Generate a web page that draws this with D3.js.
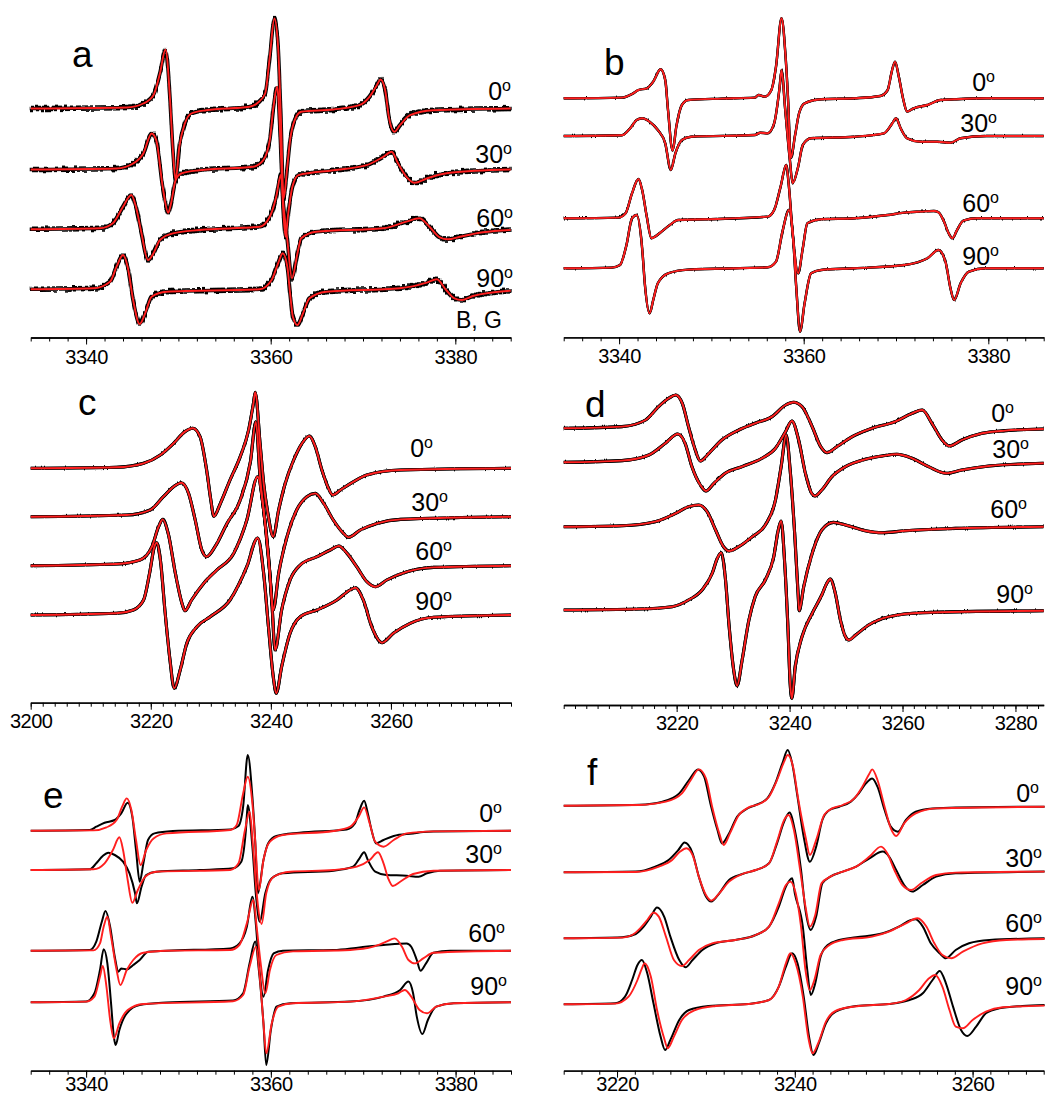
<!DOCTYPE html>
<html><head><meta charset="utf-8">
<script src="https://cdn.jsdelivr.net/npm/d3@7/dist/d3.min.js"></script>
<style>body{margin:0;background:#fff}svg{display:block}</style>
</head><body>
<svg id="chart" width="1045" height="1099"></svg>
<script>
// ---------------- DATA ----------------
const angles = ["0", "30", "60", "90"];
const ticksA = [3340, 3360, 3380];
const ticksB = [3340, 3360, 3380];
const ticksC = [3200, 3220, 3240, 3260];
const ticksD = [3220, 3240, 3260, 3280];
const ticksE = [3340, 3360, 3380];
const ticksF = [3220, 3240, 3260];

// baseline offsets of the four traces (a.u. above axis)
const offA = [229, 168, 107.5, 47.5];
const offB = [239, 201.3, 119, 69];
const offC = [234.4, 186, 137, 87.7];
const offD = [276.7, 242.7, 178.3, 95];
const offE = [240, 200.7, 120, 68.4];
const offF = [265, 198.4, 132.4, 66.4];

// panel a  [B (G), intensity]
const a0 = [[3334,0],[3344.4,1],[3346.2,5],[3347.3,13.3],[3348.0,35],[3348.6,59],[3349.1,8.3],[3349.4,-41.7],[3349.7,-71.7],[3350.1,-38.3],[3350.7,-15],[3351.4,-5],[3353.0,-1.7],[3357.7,1.7],[3358.6,5.7],[3359.4,15],[3359.9,51.7],[3360.4,90],[3360.8,61.7],[3361.1,-8.3],[3361.4,-90],[3361.8,-58],[3362.1,-31.7],[3362.6,-11.7],[3363.3,-3.3],[3366.8,-1],[3369.6,3.3],[3370.7,11.7],[3371.5,23.3],[3371.9,29],[3372.4,18.3],[3372.8,-8.3],[3373.4,-23.3],[3374.0,-16.7],[3375.1,-6.7],[3377.6,-1.7],[3386,0]];
const a30 = [[3334,0],[3343.3,1],[3345.1,6],[3346.2,16],[3347.1,36],[3347.6,29.3],[3348.3,-17.3],[3348.9,-43.3],[3349.2,-34],[3349.7,-10.7],[3350.3,-4],[3352.3,-0.7],[3358.1,2.7],[3359.2,9.3],[3359.9,29.3],[3360.3,62.7],[3360.7,82.7],[3361.05,29.3],[3361.34,-37.3],[3361.6,-67.3],[3361.9,-44],[3362.35,-17.3],[3363.0,-5.7],[3366.8,-0.7],[3370.4,4.3],[3372.2,12.7],[3373.1,17.7],[3373.8,6],[3374.7,-7.3],[3375.6,-13.3],[3376.9,-9],[3379.4,-3.3],[3386,0]];
const a60 = [[3334,0.7],[3341.5,1.7],[3342.9,6.7],[3344.0,23.3],[3344.9,35],[3345.4,23.3],[3346.0,-3.3],[3346.7,-30],[3347.3,-23.3],[3348.0,-10],[3349.4,-3.3],[3352.3,0],[3358.8,3.3],[3359.9,13.3],[3360.6,33.3],[3361.1,55],[3361.4,23.3],[3361.8,-10],[3362.3,-48.3],[3362.9,-23.3],[3363.3,-8.3],[3364.9,-1.7],[3372.2,1.7],[3374.7,8.3],[3376.1,11.7],[3377.2,3.3],[3378.3,-7.3],[3379.2,-9.3],[3380.5,-6.7],[3383.0,-2.3],[3386,0]];
const a90 = [[3334,0.7],[3340.8,1.7],[3342.6,8.3],[3343.3,23.3],[3344.0,35],[3344.5,23.3],[3345.1,-10],[3345.8,-34],[3346.4,-23.3],[3347.1,-6.7],[3348.7,-1.7],[3358.8,0.7],[3360.1,10],[3360.8,26.7],[3361.3,36.7],[3361.8,23.3],[3362.1,-3.3],[3362.4,-26.7],[3362.9,-35],[3363.5,-23.3],[3364.2,-8.3],[3366.0,-1.7],[3374.0,1.7],[3376.9,7.3],[3378.0,10.7],[3379.0,0],[3379.9,-8.3],[3380.7,-10],[3381.9,-6],[3386,-0.7]];

// panel b
const b0 = [[3334,0],[3340.3,0.7],[3341.4,4.3],[3342.1,8.3],[3343.0,10],[3343.7,16.7],[3344.5,29],[3345.0,18.3],[3345.3,-11.7],[3345.8,-52.3],[3346.2,-28.3],[3346.8,-6.7],[3347.5,-1.7],[3351.1,-0.3],[3354.7,0.7],[3355.1,3.3],[3355.8,1.7],[3356.5,8.3],[3357.0,31.7],[3357.6,80],[3358.0,46.7],[3358.3,0],[3358.6,-59.7],[3359.1,-35],[3359.5,-15],[3360.1,-5],[3361.9,-1],[3365.5,0],[3368.3,2.3],[3369.1,8.3],[3369.5,25],[3369.9,36.7],[3370.3,21.7],[3370.8,-1.7],[3371.2,-13.3],[3371.9,-10],[3373.4,-6.7],[3374.8,-1.7],[3376.3,-1],[3379.8,0],[3386,0]];
const b30 = [[3334,0],[3340.3,0.7],[3341.2,7.7],[3341.9,16],[3342.5,17.7],[3343.3,14.3],[3344.2,6],[3345.0,-7.3],[3345.6,-34],[3346.1,-17.3],[3346.8,-4],[3347.8,-0.7],[3354.7,1],[3355.3,3.3],[3356.1,2.7],[3356.8,12.7],[3357.4,49.3],[3357.6,66],[3358.0,26],[3358.5,-24],[3358.8,-47.3],[3359.4,-30.7],[3359.9,-9],[3360.8,-2.3],[3365.5,-0.7],[3368.7,2.7],[3369.6,12.7],[3370.0,17.7],[3370.5,7.7],[3371.2,-2.3],[3372.7,-5.7],[3374.5,-5.7],[3375.9,-6.7],[3377.0,-2.3],[3379.8,0],[3386,0]];
const b60 = [[3334,0],[3339.9,0.7],[3340.7,5],[3341.4,25],[3342.1,39.3],[3342.5,28.3],[3343.0,1.7],[3343.5,-20],[3343.9,-18.3],[3344.6,-13.3],[3345.5,-6.7],[3346.4,-1.7],[3349.3,-1],[3356.1,1.7],[3356.8,8.3],[3357.5,31.7],[3358.1,53.3],[3358.4,31.7],[3358.8,-15],[3359.4,-55],[3359.9,-30],[3360.4,-5],[3361.9,-1],[3365.5,0],[3369.1,3.3],[3370.9,5.7],[3372.7,6.7],[3374.1,7.3],[3374.6,6],[3375.2,-3.3],[3375.7,-15],[3376.1,-20],[3376.6,-12],[3377.3,-2.3],[3378.8,0],[3386,0]];
const b90 = [[3334,0],[3339.2,0.7],[3340.1,3.3],[3340.8,23.3],[3341.4,50],[3341.9,53.3],[3342.5,20],[3342.8,-16.7],[3343.3,-45],[3343.7,-31.7],[3344.2,-15],[3345.3,-5],[3347.5,-1.3],[3356.1,1],[3357.0,6.7],[3357.7,36.7],[3358.4,58.3],[3358.8,36.7],[3359.2,-20],[3359.6,-63.3],[3360.1,-35],[3360.8,-5],[3361.9,-1.7],[3365.5,0],[3370.9,3.3],[3373.4,10],[3374.6,18.3],[3375.4,5],[3375.9,-20],[3376.3,-31.7],[3377.0,-15],[3377.9,-3.3],[3379.8,0],[3386,0]];

// panel c
const c0 = [[3200,0],[3214.3,1],[3218.8,5],[3221.6,13.3],[3223.8,25],[3225.7,36.7],[3227.0,40],[3228.2,31.7],[3229.3,-1.7],[3230.0,-31.7],[3230.5,-48],[3231.6,-35],[3233.2,-11.7],[3234.9,11.7],[3236.3,38.3],[3237.1,65],[3237.4,76],[3238.2,25],[3238.8,-15],[3239.5,-45],[3240.4,-68.3],[3241.3,-41.7],[3242.4,-15],[3243.8,8.3],[3245.2,25],[3246.4,32.3],[3247.4,21.7],[3248.5,-1.7],[3249.6,-20],[3250.3,-26.7],[3251.6,-21.7],[3253.8,-13.3],[3256.0,-6.7],[3261.6,-1.7],[3280,0]];
const c30 = [[3200,0],[3216.0,1.7],[3219.9,6.7],[3222.1,20],[3223.8,30],[3225.1,34],[3226.3,23.3],[3227.4,-3.3],[3228.5,-33.3],[3229.3,-40],[3230.7,-30],[3232.7,-6.7],[3234.9,16.7],[3236.6,55],[3237.5,95],[3238.2,40],[3239.1,-10],[3239.8,-55],[3240.4,-93.3],[3241.3,-56.7],[3242.7,-20],[3244.3,6.7],[3246.0,20],[3247.4,23.3],[3248.8,13.3],[3250.4,-3.3],[3252.1,-16.7],[3252.9,-20.7],[3254.9,-13.3],[3257.7,-6.7],[3261.6,-2.7],[3280,0]];
const c60 = [[3200,0],[3214.3,1.7],[3218.2,5.7],[3220.2,19],[3221.3,39],[3222.0,46.3],[3222.9,32.3],[3224.1,-7.7],[3225.2,-37.7],[3225.7,-45],[3226.8,-34.3],[3228.8,-17.7],[3231.0,-4.3],[3233.8,12.3],[3236.0,45.7],[3237.8,89],[3238.8,55.7],[3239.6,10],[3240.2,-40],[3240.7,-84.3],[3241.8,-44.3],[3243.2,-14.3],[3244.9,0.7],[3247.7,9],[3249.9,15.7],[3251.3,19.7],[3252.7,12.3],[3254.3,-1],[3256.0,-16],[3257.4,-21],[3259.3,-14.3],[3262.7,-6],[3267.1,-1.7],[3280,0]];
const c90 = [[3200,0],[3214.3,1.7],[3217.1,5],[3218.8,15],[3219.8,41.7],[3220.6,68.3],[3221.0,72.3],[3221.6,55],[3222.4,1.7],[3223.2,-45],[3223.9,-73.3],[3224.9,-55],[3226.0,-28.3],[3227.7,-11.7],[3229.9,-1.7],[3233.2,15],[3236.0,48.3],[3237.8,77],[3238.8,41.7],[3239.6,-11.7],[3240.4,-61.7],[3240.9,-78.3],[3241.8,-51.7],[3243.2,-18.3],[3244.9,-1.7],[3247.7,5],[3251.0,15],[3253.2,25],[3254.1,27.3],[3255.4,15],[3256.8,-11.7],[3258.5,-27.7],[3260.4,-18.3],[3263.2,-8.3],[3267.1,-2.3],[3280,0]];

// panel d
const d0 = [[3200,0],[3210.3,1.7],[3214.5,8.3],[3216.8,21.7],[3218.6,30],[3219.8,33.3],[3221.0,25],[3222.1,1.7],[3223.3,-21.7],[3224.2,-32.7],[3225.7,-25],[3228.0,-11.7],[3231.0,-1.7],[3233.9,5],[3236.9,11.7],[3239.3,23.3],[3240.7,26],[3242.2,21.7],[3244.0,1.7],[3245.5,-18.3],[3246.6,-24.3],[3248.4,-18.3],[3251.1,-8.3],[3254.6,0],[3258.7,6.7],[3261.7,15],[3263.5,18.3],[3265.2,5],[3267.0,-11.7],[3268.3,-17.7],[3270.5,-11.7],[3274.1,-5],[3278.2,-2.3],[3285,-0.7]];
const d30 = [[3200,0],[3210.3,1.7],[3215.1,7.3],[3218.0,19],[3220.2,28.3],[3221.5,19],[3222.7,-4.3],[3224.2,-22.7],[3225.2,-28.7],[3226.6,-21],[3228.6,-11],[3231.6,-4.3],[3235.1,4],[3237.5,14],[3239.3,30.7],[3240.4,41.3],[3241.6,22.3],[3242.8,-11],[3243.9,-31],[3244.5,-33.7],[3245.7,-27.7],[3247.5,-14.3],[3249.9,-4.3],[3253.4,3],[3256.4,6.3],[3259.0,8],[3261.7,4],[3264.6,-4.3],[3267.8,-11],[3270.5,-7.7],[3275.3,-3.7],[3285,-1]];
const d60 = [[3200,0],[3210.3,1],[3216.2,5],[3219.8,13.3],[3222.1,20],[3223.9,21.7],[3225.4,15],[3226.9,-3.3],[3228.3,-20],[3229.3,-24.3],[3231.0,-20],[3233.4,-10],[3235.7,1.7],[3237.5,26.7],[3238.5,60],[3239.4,91.7],[3240.1,56.7],[3240.9,-6.7],[3241.5,-66.7],[3241.7,-84],[3242.5,-60],[3244.0,-26.7],[3245.7,-3.3],[3247.8,4.3],[3249.9,1.7],[3253.4,-4],[3256.4,-6],[3260.5,-4],[3269.4,-1.7],[3285,0]];
const d90 = [[3200,0],[3213.3,1],[3219.2,3.3],[3222.1,10],[3224.5,20],[3226.3,36.7],[3227.2,51.7],[3227.9,57.3],[3228.6,33.3],[3229.3,-16.7],[3230.1,-60],[3230.7,-75.7],[3231.6,-50],[3232.8,-10],[3233.9,13.3],[3235.7,30],[3237.2,53.3],[3238.0,80],[3238.5,89],[3239.1,50],[3239.7,-16.7],[3240.1,-73.3],[3240.4,-88.3],[3241.0,-56.7],[3242.2,-26.7],[3244.0,-3.3],[3245.7,15],[3246.6,26.7],[3247.2,31],[3248.1,16.7],[3249.0,-10],[3249.9,-26.7],[3250.5,-30],[3251.7,-25],[3254.0,-15],[3257.6,-6.7],[3263.5,-2.7],[3285,-0.7]];

// panel e (experiment = black, simulation = red)
const e0k = [[3334,0],[3340.4,0.7],[3341.1,4],[3342.0,8],[3343.1,10.7],[3343.8,17.3],[3344.5,28],[3345.0,14],[3345.4,-19.3],[3345.8,-51],[3346.2,-32.7],[3346.7,-9.3],[3347.4,-2.7],[3349.4,-0.3],[3355.6,1.3],[3356.5,4.7],[3357.0,24],[3357.5,75.7],[3358.0,34],[3358.3,-9.3],[3358.6,-62.7],[3359.2,-29.3],[3359.7,-12.7],[3360.6,-5.3],[3363.1,-2],[3368.2,1.3],[3369.1,7.3],[3369.6,20.7],[3370.1,30],[3370.5,17.3],[3370.9,0.7],[3371.4,-12.7],[3372.2,-9.3],[3373.3,-5.3],[3375.4,-2.7],[3376.5,-1.3],[3377.6,-0.7],[3386,0]];
const e0r = [[3334,0],[3340.8,0.3],[3342.2,3.3],[3343.3,10.7],[3343.9,24],[3344.4,32.3],[3344.9,20.7],[3345.4,-9.3],[3345.9,-34.3],[3346.5,-19.3],[3347.3,-7.7],[3348.7,-2.7],[3355.6,0.7],[3356.3,5.7],[3357.0,37.3],[3357.5,54],[3358.0,27.3],[3358.3,-9.3],[3358.7,-59.3],[3359.2,-29.3],[3359.9,-11],[3361.3,-4.3],[3366.8,-0.3],[3368.6,4],[3369.5,14],[3370.1,23.3],[3370.7,7.3],[3371.3,-11],[3372.2,-16],[3373.3,-9.3],[3374.7,-2.7],[3377.6,-0.7],[3386,0]];
const e30k = [[3334,0],[3340.4,0.7],[3341.1,6.7],[3341.8,14],[3342.4,17.3],[3343.1,15],[3344.0,8.3],[3344.7,-3.3],[3345.3,-23.3],[3345.5,-33.3],[3346.0,-16.7],[3346.5,-5],[3347.6,-1.7],[3352.3,0],[3355.9,1.7],[3356.8,8.3],[3357.3,40],[3357.5,65],[3358.0,23.3],[3358.4,-26.7],[3358.8,-51.7],[3359.4,-23.3],[3360.1,-8.3],[3361.3,-3.3],[3366.8,-0.7],[3368.9,3.3],[3369.6,11.7],[3370.1,17.7],[3370.5,10],[3371.3,-1.7],[3372.5,-5],[3374.7,-5.7],[3376.0,-6.7],[3376.9,-3.3],[3378.3,-0.7],[3386,0]];
const e30r = [[3334,0],[3340.8,0.7],[3342.0,6.7],[3342.9,20],[3343.6,32.7],[3344.0,20],[3344.5,-10],[3345.0,-32.7],[3345.6,-20],[3346.4,-6.7],[3347.6,-1.7],[3355.6,0],[3356.5,6.7],[3357.2,40],[3357.7,58.3],[3358.1,20],[3358.5,-26.7],[3359.0,-54],[3359.5,-23.3],[3360.3,-6.7],[3362.1,-1.7],[3366.8,0],[3369.3,3.3],[3370.7,10],[3371.6,17.7],[3372.2,6.7],[3372.7,-8.3],[3373.2,-16],[3374.0,-11.7],[3375.4,-4],[3377.6,-0.7],[3386,0]];
const e60k = [[3334,0],[3340.4,0.7],[3341.1,9],[3341.7,29],[3342.1,39.7],[3342.6,24],[3343.1,-6],[3343.5,-21],[3343.8,-17.7],[3344.4,-18.7],[3345.1,-14.3],[3345.8,-9.3],[3346.7,-1],[3348.7,0],[3355.6,2.3],[3356.6,7.3],[3357.4,24],[3358.0,54],[3358.4,24],[3358.7,-12.7],[3359.2,-46],[3359.7,-19.3],[3360.3,-2.7],[3361.3,0],[3366.8,0.7],[3369.6,3.3],[3372.2,5.7],[3374.7,7.3],[3375.2,4],[3375.8,-9.3],[3376.2,-20],[3376.8,-12.7],[3377.6,-2],[3379.4,0],[3386,0]];
const e60r = [[3334,0],[3340.8,0.3],[3341.5,7.3],[3341.9,24],[3342.3,34],[3342.7,14],[3343.3,-19.3],[3343.7,-34.3],[3344.4,-19.3],[3345.1,-9.3],[3346.2,-2],[3348.7,0],[3355.6,0.7],[3356.6,5.7],[3357.4,27.3],[3358.1,50.7],[3358.5,20.7],[3358.9,-12.7],[3359.4,-42.7],[3359.9,-19.3],[3360.6,-4.3],[3362.4,-0.7],[3368.6,0.7],[3371.1,4],[3372.5,9],[3373.4,12.3],[3374.2,4],[3374.9,-9.3],[3375.6,-12.7],[3376.5,-7.7],[3377.6,-2],[3386,0]];
const e90k = [[3334,0],[3340.0,0.7],[3340.9,9],[3341.5,32.3],[3341.9,53],[3342.3,39],[3342.7,-1],[3343.0,-34.3],[3343.2,-42.7],[3343.6,-27.7],[3344.4,-11],[3345.8,-2.7],[3348.7,-0.3],[3355.9,1.7],[3357.0,9],[3357.7,39],[3358.3,60.7],[3358.7,32.3],[3359.2,-21],[3359.5,-62.7],[3360.0,-27.7],[3360.6,-4.3],[3362.1,-1],[3368.6,0.7],[3372.2,5.7],[3374.0,12.3],[3374.9,20.7],[3375.4,9],[3375.8,-14.3],[3376.4,-31.7],[3377.0,-17.7],[3377.9,-4.3],[3379.8,-1],[3386,0]];
const e90r = [[3334,0],[3340.0,0.7],[3340.9,5.7],[3341.5,25.7],[3341.8,36.3],[3342.2,15.7],[3342.6,-17.7],[3343.0,-36],[3343.6,-21],[3344.5,-7.7],[3346.2,-1.7],[3355.9,1],[3357.0,7.3],[3357.7,35.7],[3358.4,55.7],[3358.8,25.7],[3359.2,-21],[3359.5,-51],[3360.1,-21],[3360.8,-4.3],[3362.4,-1],[3368.6,0.7],[3372.2,5.7],[3373.8,9],[3374.5,12.3],[3375.2,5.7],[3376.1,-7.7],[3376.9,-11],[3377.9,-4.3],[3379.8,-1],[3386,0]];

// panel f
const f0k = [[3214,0],[3222.5,1],[3225.1,4],[3227.0,12.3],[3228.1,25.7],[3229.1,36.3],[3229.8,29],[3230.5,2.3],[3231.3,-24.3],[3231.8,-37.7],[3232.6,-27.7],[3233.5,-11],[3234.5,-3.7],[3235.6,0.7],[3236.9,7.3],[3237.8,22.3],[3238.6,42.3],[3239.2,55.7],[3239.7,42.3],[3240.3,9],[3241.0,-31],[3241.7,-56],[3242.4,-41],[3243.1,-14.3],[3243.9,-4.3],[3245.0,-1],[3246.3,4],[3247.2,12.3],[3248.0,22.3],[3248.7,27.3],[3249.3,19],[3250.1,-4.3],[3250.8,-21],[3251.6,-26],[3252.5,-14.3],[3253.6,-6],[3255.5,-2.7],[3258.1,-1.7],[3268.1,-1]];
const f0r = [[3214,0],[3222.5,0.7],[3225.5,4],[3227.3,12.3],[3228.3,25.7],[3229.2,36.3],[3230.0,27.3],[3230.7,-1],[3231.5,-27.7],[3232.0,-39.3],[3232.7,-27.7],[3233.7,-9.3],[3234.8,-1.7],[3236.0,1.7],[3237.1,9],[3238.0,25.7],[3238.8,44],[3239.2,50.7],[3239.8,39],[3240.4,5.7],[3241.2,-31],[3241.7,-49.3],[3242.4,-34.3],[3243.3,-9.3],[3244.2,-2.7],[3245.4,0.7],[3246.7,7.3],[3247.6,19],[3248.4,32.3],[3248.7,36.3],[3249.3,25.7],[3250.1,-1],[3250.8,-22.7],[3251.4,-30.3],[3252.3,-17.7],[3253.6,-7.7],[3255.9,-2.7],[3268.1,-1]];
const f30k = [[3214,0],[3222.1,0.7],[3224.3,5.7],[3225.8,12.3],[3226.9,22.3],[3227.6,29.7],[3228.5,19],[3229.2,-4.3],[3230.0,-24.3],[3230.6,-29.3],[3231.5,-21],[3232.6,-7.7],[3234.1,-1.7],[3235.6,2.3],[3237.1,9],[3238.0,29],[3238.8,50.7],[3239.4,59.7],[3240.0,42.3],[3240.7,2.3],[3241.2,-37.7],[3241.8,-57.7],[3242.4,-44.3],[3243.1,-11],[3244.0,-4.3],[3245.4,0.7],[3246.9,5.7],[3248.4,14],[3249.9,20.7],[3250.6,15.7],[3251.4,2.3],[3252.3,-12.7],[3253.2,-19.3],[3254.4,-12.7],[3255.9,-4.3],[3258.1,-1],[3268.1,0.7]];
const f30r = [[3214,0],[3222.1,0.3],[3224.7,5.7],[3226.2,12.3],[3227.1,20.7],[3227.8,24],[3228.5,17.3],[3229.2,-4.3],[3230.0,-22.7],[3230.6,-28.3],[3231.5,-21],[3232.6,-9.3],[3234.1,-1.7],[3235.6,2.3],[3237.1,9],[3238.0,30.7],[3238.8,52.3],[3239.3,57.3],[3239.9,42.3],[3240.6,2.3],[3241.2,-34.3],[3241.7,-54.3],[3242.3,-42.7],[3243.0,-11],[3244.0,-4.3],[3245.4,0.7],[3246.9,5.7],[3248.4,15.7],[3249.7,25.7],[3250.4,19],[3251.2,2.3],[3252.1,-12.7],[3253.1,-17.7],[3254.2,-11],[3255.9,-2.7],[3258.1,-0.3],[3268.1,0.7]];
const f60k = [[3214,0],[3220.6,1],[3222.1,4.3],[3223.0,11.7],[3223.8,21.7],[3224.5,30.7],[3225.3,21.7],[3226.0,1.7],[3227.0,-21.7],[3227.7,-29],[3228.5,-21.7],[3229.6,-11.7],[3231.1,-5],[3233.3,-1.7],[3235.6,3.3],[3237.1,11.7],[3238.2,31.7],[3239.0,51.7],[3239.7,60],[3240.0,45],[3240.9,11.7],[3241.4,-31.7],[3241.8,-56.7],[3242.3,-45],[3242.9,-18.3],[3243.7,-6.7],[3245.0,-1.7],[3246.9,1],[3249.9,5],[3251.7,11.7],[3253.1,18.3],[3253.6,19],[3254.4,11.7],[3255.3,-5],[3256.3,-15],[3257.0,-20],[3258.1,-11.7],[3259.6,-5],[3261.9,-1.7],[3268.1,0]];
const f60r = [[3214,0],[3220.6,0.7],[3221.7,3.3],[3222.6,10],[3223.4,18.3],[3224.1,25.7],[3224.7,21.7],[3225.5,1.7],[3226.4,-21.7],[3227.3,-27.7],[3228.1,-21.7],[3229.2,-11.7],[3230.7,-5],[3233.3,-1.7],[3235.6,3.3],[3237.1,11.7],[3238.2,35],[3239.0,53.3],[3239.5,56.7],[3240.1,45],[3240.7,11.7],[3241.2,-31.7],[3241.7,-51.7],[3242.2,-41.7],[3242.9,-16.7],[3243.9,-6.7],[3245.4,-1.7],[3248.7,1.7],[3250.6,6.7],[3252.5,15],[3253.8,20],[3254.8,11.7],[3255.7,-5],[3256.6,-16.7],[3257.6,-20],[3258.9,-13.3],[3261.1,-5],[3263.8,-1.7],[3268.1,-0.7]];
const f90k = [[3214,0],[3219.8,1],[3220.9,7.7],[3221.7,24.3],[3222.3,39.3],[3222.8,44.3],[3223.4,31],[3224.1,1],[3224.9,-32.3],[3225.4,-45.7],[3226.0,-35.7],[3227.0,-15.7],[3228.1,-5.7],[3230.3,-1.7],[3234.8,0.3],[3237.1,4.3],[3238.2,17.7],[3239.0,37.7],[3239.7,51],[3240.3,41],[3241.0,7.7],[3241.6,-32.3],[3242.1,-50.7],[3242.7,-39],[3243.5,-19],[3244.6,-7.3],[3246.9,-1.7],[3250.6,0.3],[3252.9,4.3],[3254.4,11],[3255.5,24.3],[3256.3,33.3],[3257.0,21],[3257.8,-2.3],[3258.7,-25.7],[3259.4,-31.7],[3260.4,-22.3],[3261.5,-9],[3263.0,-4],[3265.6,-1.7],[3268.1,-0.7]];
const f90r = [[3214,0],[3219.8,0.7],[3221.3,7.7],[3222.3,24.3],[3222.8,36],[3223.1,41],[3223.8,27.7],[3224.5,-5.7],[3225.3,-34],[3225.7,-44],[3226.4,-32.3],[3227.3,-15.7],[3228.8,-5.7],[3231.1,-1.7],[3234.8,0.3],[3237.1,4.3],[3238.2,17.7],[3239.0,41],[3239.5,51],[3240.1,41],[3240.9,7.7],[3241.5,-32.3],[3242.0,-49],[3242.7,-37.3],[3243.5,-17.3],[3244.8,-5.7],[3247.2,-1.7],[3250.6,0.3],[3252.5,4.3],[3254.0,14.3],[3255.1,26],[3255.8,29.3],[3256.6,17.7],[3257.4,-5.7],[3258.1,-22.3],[3258.9,-24],[3260.0,-15.7],[3261.5,-7.3],[3263.4,-3],[3268.1,-1.3]];

// ---------------- LAYOUT ----------------
const FONT = "'Liberation Sans', Arial, Helvetica, sans-serif";
const RED = "#ff1f1f";
const panels = [
  {letter:"a", lx:72, ly:67, domain:[3334,3386], range:[30.7,510.7], axisY:337.5, ticks:ticksA, off:offA,
   black:[a0,a30,a60,a90], red:[a0,a30,a60,a90], noise:"strong", bw:1.6, pad:5,
   lab:[[511,100],[512,163],[513,227],[513,287]], extra:{t:"B, G", x:502, y:328}},
  {letter:"b", lx:604, ly:75, domain:[3334,3386], range:[563.7,1043.7], axisY:337.3, ticks:ticksB, off:offB,
   black:[b0,b30,b60,b90], red:[b0,b30,b60,b90], noise:"light", bw:2.4, pad:5,
   lab:[[995,91],[997,132],[999,212],[999,265]]},
  {letter:"c", lx:78, ly:415, domain:[3200,3280], range:[30.7,511], axisY:702.7, ticks:ticksC, off:offC,
   black:[c0,c30,c60,c90], red:[c0,c30,c60,c90], noise:"light", bw:3.1, pad:4,
   lab:[[433,457],[448,511],[452,560],[452,610]]},
  {letter:"d", lx:585, ly:417, domain:[3200,3285], range:[563.7,1043.7], axisY:705, ticks:ticksD, off:offD,
   black:[d0,d30,d60,d90], red:[d0,d30,d60,d90], noise:"light", bw:3.1, pad:4,
   lab:[[1014,422],[1029,458],[1027,518],[1033,603]]},
  {letter:"e", lx:43, ly:808, domain:[3334,3386], range:[30.7,511], axisY:1070.7, ticks:ticksE, off:offE,
   black:[e0k,e30k,e60k,e90k], red:[e0r,e30r,e60r,e90r], noise:null, bw:2, pad:-1,
   lab:[[502,822],[502,863],[505,942],[507,995]]},
  {letter:"f", lx:587, ly:785, domain:[3214,3268], range:[563.7,1043.7], axisY:1070.7, ticks:ticksF, off:offF,
   black:[f0k,f30k,f60k,f90k], red:[f0r,f30r,f60r,f90r], noise:null, bw:2, pad:-1,
   lab:[[1039,802],[1042,867],[1042,932],[1042,995]]}
];

const svg = d3.select("#chart");
svg.append("rect").attr("width",1045).attr("height",1099).attr("fill","#fff");
const defs = svg.append("defs");
[["strong",7,"0.5 1.2"],["light",2.5,null]].forEach(([id,s,dil]) => {
  const f = defs.append("filter").attr("id","noise-"+id).attr("x","-2%").attr("y","-30%").attr("width","104%").attr("height","160%");
  f.append("feTurbulence").attr("type","fractalNoise").attr("baseFrequency","0.9 0.03").attr("numOctaves",2).attr("seed",7).attr("result","t");
  f.append("feColorMatrix").attr("in","t").attr("type","matrix")
    .attr("values","0 0 0 0 0.5  0 1 0 0 0  0 0 0 0 0  0 0 0 0 1").attr("result","m");
  f.append("feDisplacementMap").attr("in","SourceGraphic").attr("in2","m").attr("scale",s)
    .attr("xChannelSelector","R").attr("yChannelSelector","G").attr("result","d");
  if (dil) {
    f.append("feMorphology").attr("in","d").attr("operator","dilate").attr("radius",dil).attr("result","dd");
    const mg = f.append("feMerge");
    mg.append("feMergeNode").attr("in","dd");
    mg.append("feMergeNode").attr("in","SourceGraphic");
  } else {
    const mg = f.append("feMerge");
    mg.append("feMergeNode").attr("in","d");
    mg.append("feMergeNode").attr("in","SourceGraphic");
  }
});

panels.forEach(p => {
  const x = d3.scaleLinear().domain(p.domain).range(p.range);
  const y = d3.scaleLinear().domain([0,100]).range([p.axisY, p.axisY-100]);
  const g = svg.append("g");
  const mk = off => d3.line().x(d => x(d[0])).y(d => y(d[1] + off)).curve(d3.curveMonotoneX);

  p.black.forEach((s,i) => {
    g.append("path").attr("d", mk(p.off[i])(s)).attr("fill","none")
      .attr("stroke","#000").attr("stroke-width",p.bw).attr("stroke-linejoin","round")
      .attr("filter", p.noise ? "url(#noise-"+p.noise+")" : null);
  });
  p.red.forEach((s,i) => {
    g.append("path").attr("d", mk(p.off[i])(s)).attr("fill","none")
      .attr("stroke",RED).attr("stroke-width",1.9).attr("stroke-linejoin","round");
  });

  // axes
  const minor = d3.axisBottom(x).tickValues(d3.range(p.domain[0], p.domain[1]+0.01, 2))
    .tickSize(4).tickFormat("").tickSizeOuter(0);
  const ga = g.append("g").attr("transform",`translate(0,${p.axisY})`).call(minor);
  const major = d3.axisBottom(x).tickValues(p.ticks).tickSize(7).tickPadding(p.pad).tickSizeOuter(0)
    .tickFormat(d3.format("d"));
  const gm = g.append("g").attr("transform",`translate(0,${p.axisY})`).call(major);
  [ga,gm].forEach(a => {
    a.select(".domain").attr("stroke","#000").attr("stroke-width",1.3);
    a.selectAll(".tick line").attr("stroke","#000").attr("stroke-width",1);
  });
  gm.selectAll(".tick text").attr("font-family",FONT).attr("font-size",20).attr("fill","#000")
    .attr("letter-spacing","-0.5");

  // angle labels
  angles.forEach((a,i) => {
    const t = g.append("text").attr("x",p.lab[i][0]).attr("y",p.lab[i][1])
      .attr("text-anchor","end").attr("font-family",FONT).attr("font-size",25).attr("fill","#000");
    t.append("tspan").text(a);
    t.append("tspan").text("o").attr("font-size",16).attr("dy",-9);
  });
  // panel letter
  g.append("text").attr("x",p.lx).attr("y",p.ly).attr("font-family",FONT).attr("font-size",37)
    .attr("fill","#000").text(p.letter);
  if (p.extra) {
    g.append("text").attr("x",p.extra.x).attr("y",p.extra.y).attr("text-anchor","end")
      .attr("font-family",FONT).attr("font-size",23).attr("fill","#000").text(p.extra.t);
  }
});
</script>
</body></html>
